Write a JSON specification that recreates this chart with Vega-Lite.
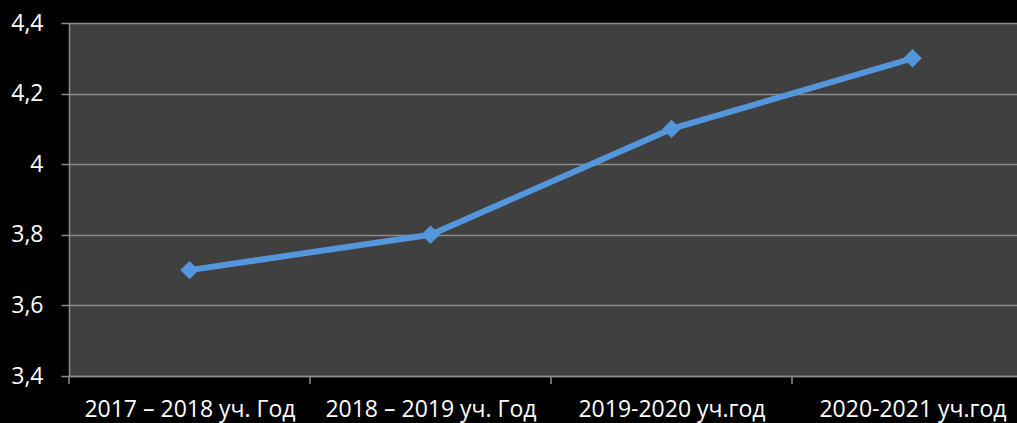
{
  "$schema": "https://vega.github.io/schema/vega-lite/v6.json",
  "autosize": "none",
  "width": 964,
  "height": 353,
  "padding": {"left": 69, "top": 23, "right": 0, "bottom": 47},
  "background": "#000000",
  "config": {
    "view": {"fill": "#404040", "stroke": null},
    "font": "Open Sans"
  },
  "data": {
    "values": [
      {"year": "2017 – 2018 уч. Год", "value": 3.7},
      {"year": "2018 – 2019 уч. Год", "value": 3.8},
      {"year": "2019-2020 уч.год", "value": 4.1},
      {"year": "2020-2021 уч.год", "value": 4.3}
    ]
  },
  "layer": [
    {
      "encoding": {
        "x": {
          "field": "year",
          "type": "nominal",
          "sort": null,
          "scale": {"type": "point", "padding": 0.5},
          "axis": {
            "title": null,
            "labelAngle": 0,
            "labelColor": "#ffffff",
            "labelFontSize": 23,
            "labelLimit": 0,
            "labelPadding": 22,
            "domainColor": "#8c8c8c",
            "domainWidth": 1.5,
            "grid": false,
            "ticks": false
          }
        },
        "y": {
          "field": "value",
          "type": "quantitative",
          "scale": {"domain": [3.4, 4.4], "zero": false, "nice": false},
          "axis": {
            "title": null,
            "values": [3.4, 3.6, 3.8, 4.0, 4.2, 4.4],
            "labelExpr": "replace(format(datum.value, '.2~f'), '.', ',')",
            "labelColor": "#ffffff",
            "labelFontSize": 23,
            "labelPadding": 18,
            "tickColor": "#8c8c8c",
            "tickSize": 8,
            "tickWidth": 1.5,
            "domainColor": "#8c8c8c",
            "domainWidth": 1.5,
            "gridColor": "#8c8c8c",
            "gridWidth": 1.5
          }
        }
      },
      "layer": [
        {"mark": {"type": "line", "color": "#5396dc", "strokeWidth": 6}},
        {"mark": {"type": "point", "shape": "diamond", "filled": true, "color": "#5396dc", "size": 340, "opacity": 1}}
      ]
    },
    {
      "data": {"values": [{"b": 0}, {"b": 1}, {"b": 2}, {"b": 3}, {"b": 4}]},
      "mark": {"type": "rule", "color": "#8c8c8c", "strokeWidth": 1.5},
      "encoding": {
        "x": {"field": "b", "type": "quantitative", "scale": {"domain": [0, 4]}, "axis": null},
        "y": {"value": 353},
        "y2": {"value": 361}
      }
    }
  ],
  "resolve": {"scale": {"x": "independent"}}
}
